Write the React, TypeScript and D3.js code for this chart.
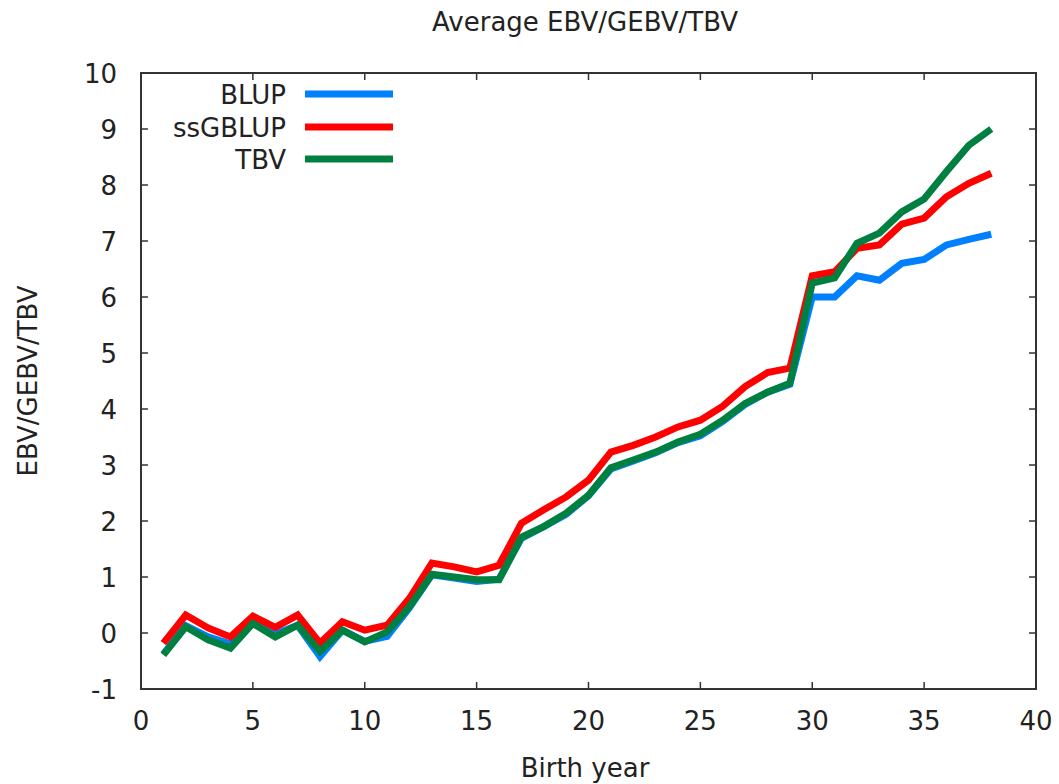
import React, { useEffect, useRef } from 'react';
import * as d3 from 'd3';

const years = [1, 2, 3, 4, 5, 6, 7, 8, 9, 10, 11, 12, 13, 14, 15, 16, 17, 18, 19, 20, 21, 22, 23, 24, 25, 26, 27, 28, 29, 30, 31, 32, 33, 34, 35, 36, 37, 38];

const blup = [-0.38, 0.13, -0.07, -0.2, 0.2, -0.02, 0.14, -0.42, 0.05, -0.15, -0.06, 0.45, 1.04, 0.98, 0.92, 0.96, 1.69, 1.9, 2.12, 2.45, 2.93, 3.07, 3.22, 3.4, 3.52, 3.78, 4.08, 4.3, 4.44, 6.0, 6.0, 6.38, 6.3, 6.6, 6.67, 6.93, 7.03, 7.12];
const ssgblup = [-0.18, 0.32, 0.09, -0.07, 0.3, 0.1, 0.32, -0.18, 0.2, 0.05, 0.14, 0.62, 1.25, 1.18, 1.09, 1.21, 1.96, 2.2, 2.43, 2.73, 3.23, 3.35, 3.5, 3.68, 3.8, 4.05, 4.4, 4.65, 4.73, 6.38, 6.45, 6.87, 6.93, 7.3, 7.41, 7.79, 8.03, 8.21];
const tbv = [-0.39, 0.11, -0.12, -0.27, 0.17, -0.07, 0.14, -0.33, 0.05, -0.16, 0.02, 0.47, 1.05, 1.0, 0.95, 0.95, 1.71, 1.9, 2.14, 2.46, 2.95, 3.09, 3.23, 3.41, 3.55, 3.8, 4.1, 4.3, 4.46, 6.25, 6.34, 6.96, 7.14, 7.52, 7.75, 8.24, 8.71, 9.0];

const seriesNames = ['BLUP', 'ssGBLUP', 'TBV'];
const seriesColors = ['#0080ff', '#ff0000', '#008040'];
const xTicks = [0, 5, 10, 15, 20, 25, 30, 35, 40];
const yTicks = [-1, 0, 1, 2, 3, 4, 5, 6, 7, 8, 9, 10];

const W = 1059;
const H = 784;
const FONT = '"DejaVu Sans", sans-serif';

const App = () => {
  const ref = useRef<SVGSVGElement | null>(null);

  useEffect(() => {
    const svg = d3.select(ref.current);
    svg.selectAll('*').remove();

    const left = 141, right = 1036, top = 73, bottom = 689;
    const x = d3.scaleLinear().domain([0, 40]).range([left, right]);
    const y = d3.scaleLinear().domain([-1, 10]).range([bottom, top]);

    svg.append('rect').attr('width', W).attr('height', H).attr('fill', '#fff');

    // frame ticks on all four sides, pointing inward
    const axisColor = '#333';
    const tickLen = 7;
    const g = svg.append('g').attr('stroke', axisColor).attr('stroke-width', 1.5);
    xTicks.forEach((t) => {
      g.append('line').attr('x1', x(t)).attr('x2', x(t)).attr('y1', bottom).attr('y2', bottom - tickLen);
      g.append('line').attr('x1', x(t)).attr('x2', x(t)).attr('y1', top).attr('y2', top + tickLen);
    });
    yTicks.forEach((t) => {
      g.append('line').attr('x1', left).attr('x2', left + tickLen).attr('y1', y(t)).attr('y2', y(t));
      g.append('line').attr('x1', right).attr('x2', right - tickLen).attr('y1', y(t)).attr('y2', y(t));
    });

    const txt = svg.append('g').attr('font-family', FONT).attr('fill', '#222').attr('font-size', 26);
    xTicks.forEach((t) => {
      txt.append('text').attr('x', x(t)).attr('y', y(-1) + 41).attr('text-anchor', 'middle').text(String(t));
    });
    yTicks.forEach((t) => {
      txt.append('text').attr('x', left - 24).attr('y', y(t) + 9.5).attr('text-anchor', 'end').text(String(t));
    });

    txt.append('text').attr('x', 585).attr('y', 31).attr('text-anchor', 'middle').text('Average EBV/GEBV/TBV');
    txt.append('text').attr('x', 585).attr('y', 777).attr('text-anchor', 'middle').text('Birth year');
    txt.append('text')
      .attr('transform', `translate(37, ${(top + bottom) / 2}) rotate(-90)`)
      .attr('text-anchor', 'middle')
      .text('EBV/GEBV/TBV');

    const allSeries = [blup, ssgblup, tbv];
    const line = d3.line<number>().x((_, i) => x(years[i])).y((d) => y(d));

    allSeries.forEach((s, k) => {
      svg.append('path')
        .datum(s)
        .attr('d', line)
        .attr('fill', 'none')
        .attr('stroke', seriesColors[k])
        .attr('stroke-width', 7)
        .attr('stroke-linejoin', 'miter')
        .attr('stroke-linecap', 'butt');
    });

    // legend
    const legendY = [94, 127, 159];
    seriesNames.forEach((name, k) => {
      txt.append('text').attr('x', 286).attr('y', legendY[k] + 9.5).attr('text-anchor', 'end').text(name);
      svg.append('line')
        .attr('x1', 305).attr('x2', 393)
        .attr('y1', legendY[k]).attr('y2', legendY[k])
        .attr('stroke', seriesColors[k]).attr('stroke-width', 7);
    });

    svg.append('rect')
      .attr('x', left).attr('y', top)
      .attr('width', right - left).attr('height', bottom - top)
      .attr('fill', 'none').attr('stroke', axisColor).attr('stroke-width', 2);
  }, []);

  return <svg ref={ref} width={W} height={H} style={{ display: 'block', position: 'absolute', left: 0, top: 0 }} />;
};

export default App;
